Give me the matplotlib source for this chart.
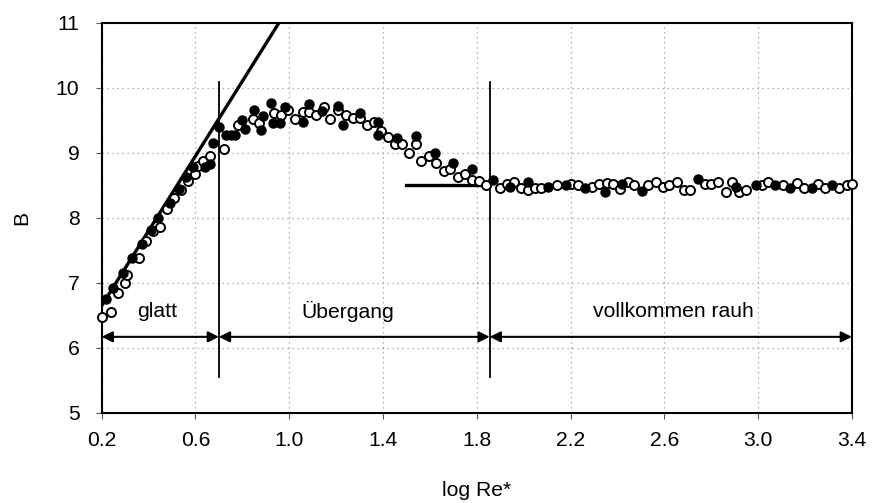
import matplotlib
matplotlib.use("Agg")
import matplotlib.pyplot as plt
import numpy as np

plt.rcParams['font.family'] = ['Liberation Sans', 'DejaVu Sans']

# filled circles (series 1)
x_filled = [0.22, 0.25, 0.29, 0.33, 0.37, 0.41, 0.44, 0.49, 0.53, 0.56, 0.59, 0.64, 0.66,
            0.675, 0.70, 0.73, 0.75, 0.77, 0.80, 0.81, 0.85, 0.88, 0.89, 0.92, 0.93, 0.96,
            0.98, 1.06, 1.085, 1.14, 1.21, 1.23, 1.30, 1.38, 1.38, 1.46, 1.54, 1.62, 1.70,
            1.78, 1.87, 1.94, 2.02, 2.105, 2.18, 2.26, 2.345, 2.42, 2.505, 2.745, 2.905,
            2.99, 3.07, 3.135, 3.23, 3.315]
b_filled = [6.75, 6.92, 7.15, 7.38, 7.6, 7.82, 8.0, 8.23, 8.45, 8.62, 8.78, 8.78, 8.83,
            9.15, 9.4, 9.28, 9.28, 9.28, 9.5, 9.37, 9.65, 9.35, 9.57, 9.76, 9.46, 9.45,
            9.71, 9.47, 9.75, 9.64, 9.72, 9.42, 9.61, 9.48, 9.28, 9.23, 9.26, 9.0, 8.85,
            8.75, 8.58, 8.47, 8.55, 8.47, 8.5, 8.46, 8.39, 8.52, 8.41, 8.6, 8.47,
            8.51, 8.5, 8.46, 8.46, 8.5]

# open circles (series 2)
x_open = [0.20, 0.24, 0.27, 0.30, 0.31, 0.36, 0.39, 0.42, 0.45, 0.48, 0.51, 0.54, 0.57,
          0.60, 0.61, 0.63, 0.66, 0.72, 0.78, 0.845, 0.87, 0.935, 0.965, 0.995, 1.025,
          1.06, 1.085, 1.115, 1.15, 1.175, 1.21, 1.24, 1.27, 1.30, 1.33, 1.36, 1.39, 1.42,
          1.45, 1.48, 1.51, 1.54, 1.56, 1.595, 1.625, 1.66, 1.685, 1.72, 1.75, 1.78, 1.81,
          1.84, 1.90, 1.93, 1.96, 1.99, 2.02, 2.05, 2.075, 2.14, 2.20, 2.23, 2.29, 2.32,
          2.355, 2.38, 2.41, 2.445, 2.47, 2.53, 2.565, 2.595, 2.62, 2.655, 2.685, 2.71,
          2.775, 2.80, 2.83, 2.865, 2.89, 2.92, 2.95, 3.015, 3.04, 3.105, 3.165, 3.195,
          3.255, 3.285, 3.345, 3.38, 3.40]
b_open = [6.48, 6.55, 6.84, 7.0, 7.12, 7.38, 7.64, 7.79, 7.86, 8.14, 8.31, 8.42, 8.56,
          8.67, 8.8, 8.87, 8.95, 9.05, 9.42, 9.52, 9.45, 9.61, 9.58, 9.66, 9.52,
          9.63, 9.62, 9.58, 9.7, 9.52, 9.65, 9.58, 9.53, 9.53, 9.42, 9.48, 9.34, 9.24,
          9.13, 9.13, 9.0, 9.13, 8.87, 8.95, 8.85, 8.72, 8.75, 8.63, 8.68, 8.58, 8.57,
          8.5, 8.46, 8.52, 8.55, 8.46, 8.43, 8.46, 8.46, 8.51, 8.52, 8.5, 8.47, 8.52,
          8.53, 8.52, 8.45, 8.55, 8.5, 8.51, 8.55, 8.48, 8.5, 8.55, 8.43, 8.43,
          8.52, 8.52, 8.55, 8.39, 8.55, 8.39, 8.43, 8.51, 8.55, 8.5, 8.53, 8.46,
          8.52, 8.46, 8.46, 8.5, 8.52]

# log law for the smooth regime: B = a + b * log Re*
law_a, law_b = 5.5, 5.75
law_x = [0.2, 1.0]
# fully rough level
rough_b = 8.5
rough_x = [1.5, 1.855]

# regime boundaries and labels
bounds = [0.2, 0.70, 1.855, 3.4]
regimes = ['glatt', 'Übergang', 'vollkommen rauh']
regime_text_x = [0.435, 1.25, 2.64]
divider_b = [5.55, 10.08]

x_ticks = [0.2, 0.6, 1.0, 1.4, 1.8, 2.2, 2.6, 3.0, 3.4]
y_ticks = [5, 6, 7, 8, 9, 10, 11]

fs = 15.2

fig = plt.figure(figsize=(8.79, 5.03), dpi=100)
ax = fig.add_axes([0.1157, 0.179, 0.8535, 0.776])

ax.grid(True, color='#999999', linestyle=(0, (1, 3)), linewidth=0.9)
ax.set_axisbelow(True)

lx = np.array(law_x)
ax.plot(lx, law_a + law_b * lx, color='black', lw=2.4, zorder=3)
ax.plot(rough_x, [rough_b, rough_b], color='black', lw=2.4, zorder=3)

ax.plot(x_open, b_open, 'o', ms=6.5, mfc='white', mec='black', mew=1.4, zorder=4,
        clip_on=False)
ax.plot(x_filled, b_filled, 'o', ms=6.5, mfc='black', mec='black', mew=1.0, zorder=5,
        clip_on=False)

for xb in bounds[1:3]:
    ax.plot([xb, xb], divider_b, color='black', lw=1.3, zorder=3)

arrow_b = 6.17
for i in range(3):
    ax.annotate('', xy=(bounds[i], arrow_b), xytext=(bounds[i + 1], arrow_b),
                arrowprops=dict(arrowstyle='<|-|>', color='black', lw=1.5,
                                mutation_scale=16, shrinkA=0, shrinkB=0))
    ax.text(regime_text_x[i], 6.56, regimes[i], ha='center', va='center', fontsize=fs)

ax.set_xlim(0.2, 3.4)
ax.set_ylim(5, 11)
ax.set_xticks(x_ticks)
ax.set_xticklabels(['%.1f' % t for t in x_ticks])
ax.set_yticks(y_ticks)
ax.tick_params(labelsize=fs, length=4, width=0.8, color='#555555')
ax.tick_params(axis='x', pad=9)
ax.tick_params(axis='y', pad=12)
for s in ax.spines.values():
    s.set_linewidth(1.5)

ax.set_xlabel('log Re*', fontsize=fs, labelpad=22)
ax.set_ylabel('B', fontsize=fs, labelpad=18)

fig.savefig('out.png', dpi=100)
